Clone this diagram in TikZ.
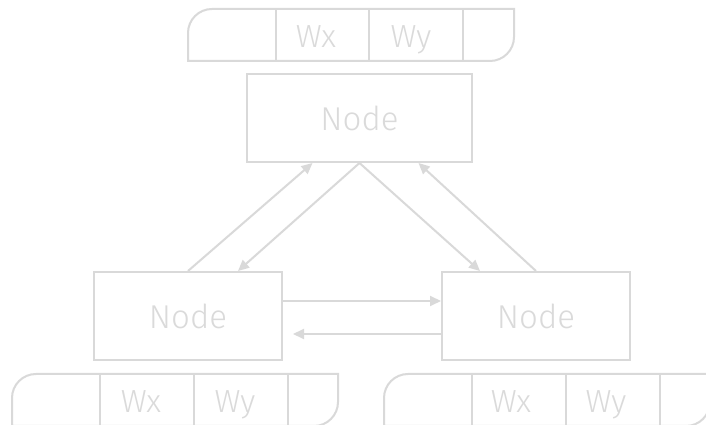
\documentclass[tikz,border=0pt]{standalone}
\usepackage{fontspec}
\setmainfont{Fira Sans}[UprightFont=* Light]
\usetikzlibrary{arrows.meta}
\definecolor{lngray}{HTML}{D9D9D9}
\definecolor{txgray}{HTML}{DADADA}
\begin{document}
\begin{tikzpicture}[x=1pt,y=1pt,
  line width=2pt, draw=lngray,
  nodebox/.style={draw=lngray, line width=2pt, inner sep=0pt, minimum height=88pt, text=txgray, font=\fontsize{33}{40}\selectfont},
  cellbox/.style={text=txgray, font=\fontsize{32}{38}\selectfont, anchor=base, inner sep=0pt},
  conn/.style={draw=lngray, line width=2pt, -{Triangle[length=11pt,width=10pt]}},
  tabline/.style={draw=lngray, line width=2pt}
]
\useasboundingbox (0,0) rectangle (706,425);
\clip (0,0) rectangle (706,425);
\fill[white] (0,0) rectangle (706,425);

% tabs
\draw[tabline] (188,364) -- (188,392) arc[start angle=180,end angle=90,radius=24pt] -- (514,416) -- (514,388) arc[start angle=0,end angle=-90,radius=24pt] -- cycle;
\draw[tabline] (276,364) -- (276,416) (369,364) -- (369,416) (463,364) -- (463,416);
\node[cellbox] (tx1) at (316,377) {Wx};
\node[cellbox] (ty1) at (411,377) {Wy};

\draw[tabline] (12,-1) -- (12,27) arc[start angle=180,end angle=90,radius=24pt] -- (338,51) -- (338,23) arc[start angle=0,end angle=-90,radius=24pt] -- cycle;
\draw[tabline] (100,-1) -- (100,51) (194,-1) -- (194,51) (288,-1) -- (288,51);
\node[cellbox] (tx2) at (141,12) {Wx};
\node[cellbox] (ty2) at (235,12) {Wy};

\draw[tabline] (384,-1) -- (384,27) arc[start angle=180,end angle=90,radius=24pt] -- (710,51) -- (710,23) arc[start angle=0,end angle=-90,radius=24pt] -- cycle;
\draw[tabline] (472,-1) -- (472,51) (566,-1) -- (566,51) (660,-1) -- (660,51);
\node[cellbox] (tx3) at (511,12) {Wx};
\node[cellbox] (ty3) at (606,12) {Wy};

% nodes
\node[nodebox, minimum width=225pt] (top) at (359.5,307) {Node};
\node[nodebox, minimum width=188pt] (left) at (188,109) {Node};
\node[nodebox, minimum width=188pt] (right) at (536,109) {Node};

% connectors
\draw[conn] (left.north) -- ([xshift=-47pt]top.south);
\draw[conn] (top.south) -- ([xshift=50pt]left.north);
\draw[conn] (top.south) -- ([xshift=-56pt]right.north);
\draw[conn] (right.north) -- ([xshift=59pt]top.south);
\draw[conn] ([yshift=15pt]left.east) -- ([yshift=15pt]right.west);
\draw[conn] ([yshift=-18pt]right.west) -- ([xshift=10pt,yshift=-18pt]left.east);
\end{tikzpicture}
\end{document}
